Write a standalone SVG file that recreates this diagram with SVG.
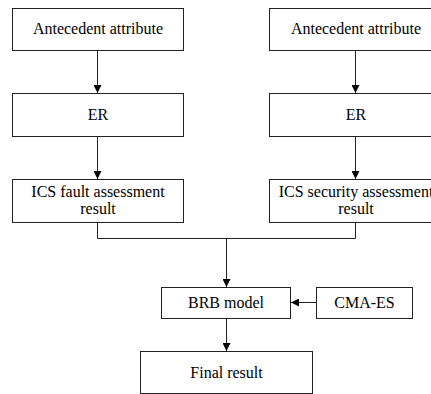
<svg xmlns="http://www.w3.org/2000/svg" width="431" height="394" viewBox="0 0 431 394">
<defs>
<marker id="ah" markerWidth="8" markerHeight="8" refX="8" refY="4" orient="auto" markerUnits="userSpaceOnUse">
<path d="M0,0 L8,4 L0,8 Z" fill="#000"/>
</marker>
<style>
.b{fill:#fff;stroke:#222;stroke-width:1}
text{font-family:"Liberation Serif","Times New Roman",serif;font-size:16px;fill:#000;text-anchor:middle}
.c{fill:none;stroke:#222;stroke-width:1}
</style>
</defs>
<rect width="431" height="394" fill="#fff"/>
<g id="connectors">
<path class="c" d="M97.5,50.5 V93" marker-end="url(#ah)"/>
<path class="c" d="M97.5,136.5 V179" marker-end="url(#ah)"/>
<path class="c" d="M355.5,50.5 V93" marker-end="url(#ah)"/>
<path class="c" d="M355.5,136.5 V179" marker-end="url(#ah)"/>
<path class="c" d="M97.5,222.5 V238.5 H355.5 V222.5"/>
<path class="c" d="M226.5,238.5 V287" marker-end="url(#ah)"/>
<path class="c" d="M316.5,302.5 H291" marker-end="url(#ah)"/>
<path class="c" d="M226.5,318.5 V351" marker-end="url(#ah)"/>
</g>
<g id="n1"><rect class="b" x="12.5" y="8.5" width="171" height="42"/><text x="98" y="34">Antecedent attribute</text></g>
<g id="n2"><rect class="b" x="12.5" y="93.5" width="171" height="43"/><text x="98" y="120">ER</text></g>
<g id="n3"><rect class="b" x="12.5" y="179.5" width="171" height="43"/><text x="98" y="197">ICS fault assessment</text><text x="98" y="214">result</text></g>
<g id="n4"><rect class="b" x="269.5" y="8.5" width="171" height="42"/><text x="356" y="34">Antecedent attribute</text></g>
<g id="n5"><rect class="b" x="269.5" y="93.5" width="171" height="43"/><text x="356" y="120">ER</text></g>
<g id="n6"><rect class="b" x="269.5" y="179.5" width="171" height="43"/><text x="356" y="197">ICS security assessment</text><text x="356" y="214">result</text></g>
<g id="n7"><rect class="b" x="161.5" y="287.5" width="129" height="31"/><text x="226" y="308">BRB model</text></g>
<g id="n8"><rect class="b" x="316.5" y="287.5" width="96" height="31"/><text x="364.5" y="308">CMA-ES</text></g>
<g id="n9"><rect class="b" x="140.5" y="351.5" width="172" height="42"/><text x="226.5" y="378">Final result</text></g>
</svg>
